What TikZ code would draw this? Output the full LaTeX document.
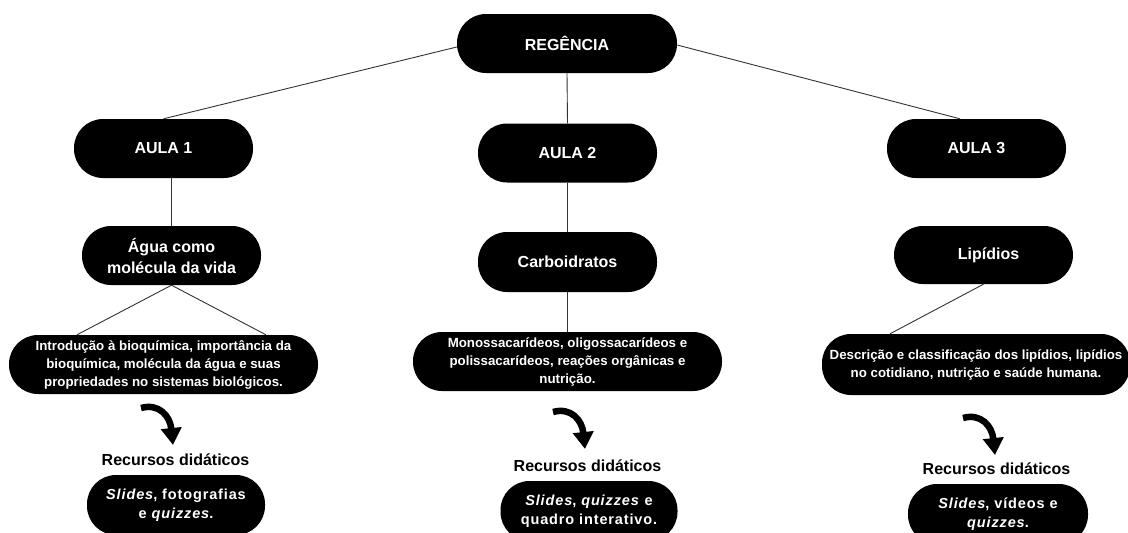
\documentclass[tikz,border=0pt]{standalone}
\usepackage{fontspec}
\setmainfont{Liberation Sans}
\newfontfamily\spacedfont[LetterSpace=6]{Liberation Sans}
\usetikzlibrary{arrows.meta}
\begin{document}
\begin{tikzpicture}[x=1pt,y=-1pt,
  pill/.style={fill=black, text=white, font=\bfseries\fontsize{16}{21}\selectfont,
    align=center, inner sep=0pt, minimum width=179pt, minimum height=59pt, rounded corners=29pt},
  wide/.style={pill, minimum width=309pt, font=\bfseries\fontsize{13.3}{18}\selectfont},
  res/.style={pill, minimum width=178pt, minimum height=60pt, font=\spacedfont\bfseries\fontsize{14.5}{19.5}\selectfont},
  heading/.style={font=\bfseries\fontsize{16}{19}\selectfont, text=black, inner sep=0pt},
  conn/.style={draw=black!80, line width=0.9pt},
  curvearrow/.pic={
    \draw[line width=6.5pt, -{Triangle[width=20pt,length=17pt]}]
      (1,5) .. controls (19,0) and (30,13) .. (33,42);
  }
]
\useasboundingbox (0,0) rectangle (1128,533);

% nodes
\node[pill, minimum width=220pt] (reg) at (567,43.5) {REGÊNCIA};
\node[pill] (a1) at (163.5,148.5) {AULA 1};
\node[pill] (a2) at (567.5,153) {AULA 2};
\node[pill] (a3) at (976.5,148.5) {AULA 3};

\node[pill] (agua) at (171.5,255.5) {Água como\\molécula da vida};
\node[pill, minimum height=60pt] (carb) at (567.5,262) {Carboidratos};
\node[pill, minimum height=58pt] (lip) at (983.5,255) {\hspace*{10pt}Lipídios};

\node[wide] (intro) at (163.5,364.5) {Introdução à bioquímica, importância da\\bioquímica, molécula da água e suas\\propriedades no sistemas biológicos.};
\node[wide] (mono) at (567.5,361.5) {Monossacarídeos, oligossacarídeos e\\polissacarídeos, reações orgânicas e\\nutrição.};
\node[wide, minimum width=308pt, minimum height=61pt] (desc) at (976,364.5) {Descrição e classificação dos lipídios, lipídios\\no cotidiano, nutrição e saúde humana.};

\node[heading] (rec1) at (175.5,460) {Recursos didáticos};
\node[heading] (rec2) at (587.5,466) {Recursos didáticos};
\node[heading] (rec3) at (996.5,468.5) {Recursos didáticos};

\node[res] (sl1) at (176,505) {\textit{Slides}, fotografias\\e \textit{quizzes}.};
\node[res, minimum width=177pt] (sl2) at (589,511) {\textit{Slides}, \textit{quizzes} e\\quadro interativo.};
\node[res, minimum width=180pt] (sl3) at (998,514) {\textit{Slides}, vídeos e\\\textit{quizzes}.};

% connectors
\draw[conn] ([yshift=-3.5pt]reg.west) -- (a1.north);
\draw[conn] ([yshift=-1.5pt]reg.east) -- ([xshift=-16.5pt]a3.north);
\draw[conn] (reg.south) -- (a2.north);
\draw[conn] (agua.north |- a1.south) -- (agua.north);
\draw[conn] (agua.south) -- ([xshift=-86.5pt]intro.north);
\draw[conn] (agua.south) -- ([xshift=102.5pt]intro.north);
\draw[conn] (a2.south) -- (carb.north);
\draw[conn] (carb.south) -- (mono.north);
\draw[conn] (lip.south) -- ([xshift=-86pt]desc.north);

% curved arrows
\pic at (140,403) {curvearrow};
\pic at (552,407) {curvearrow};
\pic at (962,413) {curvearrow};
\end{tikzpicture}
\end{document}
